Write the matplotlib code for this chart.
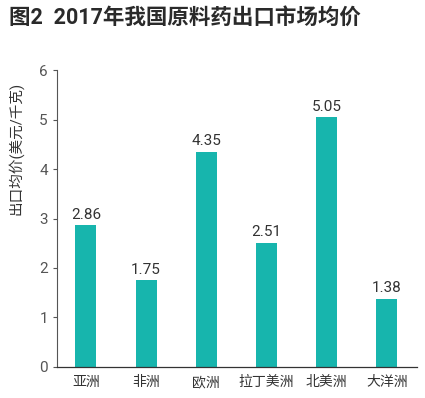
import matplotlib
matplotlib.use("Agg")
import matplotlib.pyplot as plt

plt.rcParams['font.family'] = ['Roboto', 'Noto Sans CJK SC', 'DejaVu Sans']

categories = ["亚洲", "非洲", "欧洲", "拉丁美洲", "北美洲", "大洋洲"]
values = [2.86, 1.75, 4.35, 2.51, 5.05, 1.38]
yticks = [0, 1, 2, 3, 4, 5, 6]

fig = plt.figure(figsize=(4.25, 3.98), dpi=100)
ax = fig.add_axes([0.134, 0.078, 0.847, 0.746])

x = list(range(len(categories)))
ax.bar(x, values, width=0.35, color="#17b5ad", zorder=2)
for xi, v in zip(x, values):
    ax.text(xi, v + 0.07, f"{v:.2f}", ha="center", va="bottom", fontsize=11,
            color="#333333")

ax.set_xlim(-0.48, 5.5)
ax.set_ylim(0, 6)
ax.set_yticks(yticks)
ax.set_xticks(x)
ax.set_xticklabels(categories, fontsize=10, color="#333333")
ax.tick_params(axis='y', labelsize=11, labelcolor="#555555", length=3, color="#555555", width=0.8)
ax.tick_params(axis='x', length=0, pad=6)
for s in ["top", "right"]:
    ax.spines[s].set_visible(False)
ax.spines["left"].set_color("#555555")
ax.spines["bottom"].set_color("#333333")
ax.spines["left"].set_linewidth(0.8)
ax.spines["bottom"].set_linewidth(0.9)
ax.set_ylabel("出口均价(美元/千克)", fontsize=10.5, color="#333333")
ax.yaxis.set_label_coords(-0.092, 0.737)

fig.text(0.022, 0.955, "图2  2017年我国原料药出口市场均价", fontsize=15.5,
         fontweight="bold", color="#2a2a2a", ha="left", va="center")

fig.savefig("out.png", dpi=100)
